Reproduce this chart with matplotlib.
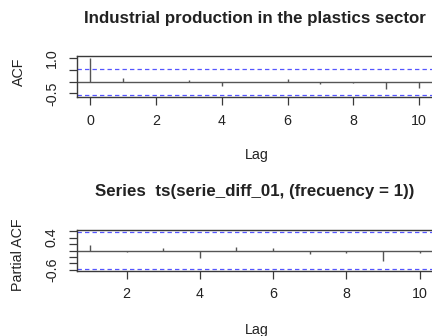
import numpy as np
import matplotlib.pyplot as plt

plt.rcParams['font.family'] = ['Liberation Sans', 'DejaVu Sans']

# ACF of the series (lags 0..10)
acf_lags = np.arange(0, 11)
acf_vals = [1.0, 0.17, -0.03, 0.07, -0.19, -0.02, 0.11, -0.11, -0.07, -0.31, -0.26]

# PACF (lags 1..10)
pacf_lags = np.arange(1, 11)
pacf_vals = [0.16, -0.05, 0.07, -0.24, 0.10, 0.07, -0.10, -0.09, -0.34, -0.09]

# 95% confidence limits
acf_clim = 0.555
pacf_clim = 0.57

title_top = "Industrial production in the plastics sector"
title_bot = "Series  ts(serie_diff_01, (frecuency = 1))"

W, H = 432, 336
fig = plt.figure(figsize=(W / 100, H / 100), dpi=100)
fig.patch.set_facecolor('white')


def px(x0, y_top, x1, y_bot):
    return [x0 / W, 1 - y_bot / H, (x1 - x0) / W, (y_bot - y_top) / H]


edge = '#3a3a3a'
bar = '#555555'
blue = '#5555ff'

def style(ax):
    for s in ax.spines.values():
        s.set_color(edge)
        s.set_linewidth(1.0)
    ax.tick_params(direction='out', length=5.8, width=0.9, color=edge,
                   labelsize=10.3, labelcolor='#222222')
    ax.tick_params(axis='x', pad=6)
    ax.tick_params(axis='y', pad=7)


# ---- ACF ----
ax1 = fig.add_axes(px(76.7, 55.7, 434, 97.3))
ax1.vlines(acf_lags, 0, acf_vals, color=bar, lw=1.0)
ax1.axhline(0, color=bar, lw=1.0)
for c in (acf_clim, -acf_clim):
    ax1.axhline(c, color=blue, lw=0.9, ls=(0, (3.5, 2.5)))
ax1.set_xlim(-0.42, 10.46)
ax1.set_ylim(-0.67, 1.11)
ax1.set_xticks([0, 2, 4, 6, 8, 10])
ax1.set_yticks([1.0, 0.5, 0.0, -0.5])
ax1.set_yticklabels(['1.0', '', '', '-0.5'], rotation=90, va='center')
style(ax1)

# ---- PACF ----
ax2 = fig.add_axes(px(76.7, 230.3, 434, 270.7))
ax2.vlines(pacf_lags, 0, pacf_vals, color=bar, lw=1.0)
ax2.axhline(0, color=bar, lw=1.0)
for c in (pacf_clim, -pacf_clim):
    ax2.axhline(c, color=blue, lw=0.9, ls=(0, (3.5, 2.5)))
ax2.set_xlim(0.64, 10.39)
ax2.set_ylim(-0.625, 0.625)
ax2.set_xticks([2, 4, 6, 8, 10])
ax2.set_yticks([0.6, 0.4, 0.2, 0.0, -0.2, -0.4, -0.6])
ax2.set_yticklabels(['', '0.4', '', '', '', '', '-0.6'], rotation=90, va='center')
style(ax2)

# ---- texts ----
def ftext(x, y, s, **kw):
    fig.text(x / W, 1 - y / H, s, ha='center', va='center', color='#222222', **kw)

ftext(255, 19, title_top, fontsize=12.2, fontweight='bold')
ftext(255, 191.5, title_bot, fontsize=12.2, fontweight='bold')
ftext(257, 155, "Lag", fontsize=10.3)
ftext(257, 330, "Lag", fontsize=10.3)
ftext(19, 72, "ACF", fontsize=10.3, rotation=90)
ftext(18, 255, "Partial ACF", fontsize=10.3, rotation=90)

fig.savefig('out.png', dpi=100)
